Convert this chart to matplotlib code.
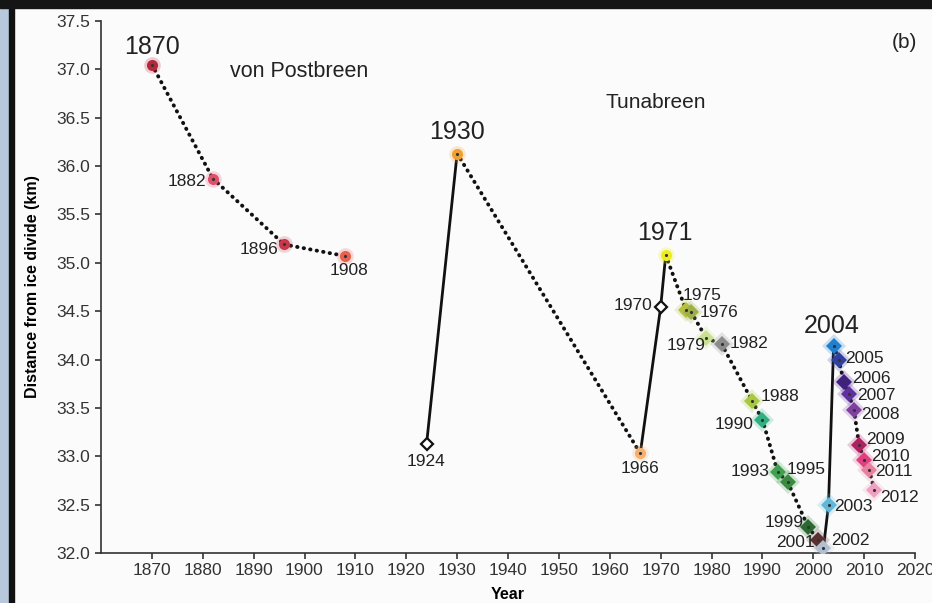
import matplotlib.pyplot as plt
from matplotlib.patches import Rectangle

plt.rcParams['font.family'] = ['Liberation Sans', 'DejaVu Sans']

# front positions, von Postbreen
vp_years = [1870, 1882, 1896, 1908]
vp_dist = [37.05, 35.87, 35.19, 35.07]
vp_colors = ['#b5283c', '#e0506a', '#c8384a', '#e8604f']

# front positions, Tunabreen
tb_years = [1924, 1930, 1966, 1970, 1971, 1975, 1976, 1979, 1982, 1988, 1990,
            1993, 1995, 1999, 2001, 2002, 2003, 2004, 2005, 2006, 2007, 2008,
            2009, 2010, 2011, 2012]
tb_dist = [33.13, 36.13, 33.03, 34.54, 35.08, 34.51, 34.49, 34.22, 34.16,
           33.57, 33.38, 32.84, 32.73, 32.27, 32.13, 32.05, 32.50, 34.14,
           34.00, 33.77, 33.64, 33.48, 33.12, 32.96, 32.86, 32.65]
tb_colors = ['none', '#f0a030', '#f5b070', 'none', '#ecec20', '#b8c040',
             '#a0b048', '#c8e090', '#8c8c8c', '#a8c840', '#30b080', '#40a050',
             '#3a8a40', '#2a6a30', '#5a3030', '#b0c0d0', '#60b8d8', '#2080d0',
             '#3040a0', '#402080', '#6030a0', '#8040a0', '#b02060', '#e04080',
             '#e880a0', '#f0a0c0']

surge_years = [1870, 1930, 1971, 2004]

# label offsets in pixels (dx, dy, ha)
label_pos = {
    1870: (0, 18, 'center'), 1882: (-7, -3, 'right'), 1896: (-6, -5, 'right'),
    1908: (4, -14, 'center'), 1924: (-1, -18, 'center'), 1930: (0, 22, 'center'),
    1966: (0, -15, 'center'), 1970: (-8, 2, 'right'), 1971: (-1, 22, 'center'),
    1975: (-3, 15, 'left'), 1976: (8, 0, 'left'), 1979: (-1, -7, 'right'),
    1982: (8, 1, 'left'), 1988: (8, 5, 'left'), 1990: (-9, -5, 'right'),
    1993: (-8, 0, 'right'), 1995: (-1, 13, 'left'), 1999: (-5, 4, 'right'),
    2001: (-4, -2, 'right'), 2002: (8, 8, 'left'), 2003: (6, -2, 'left'),
    2004: (-2, 20, 'center'), 2005: (6, 1, 'left'), 2006: (8, 3, 'left'),
    2007: (8, -1, 'left'), 2008: (7, -5, 'left'), 2009: (7, 5, 'left'),
    2010: (7, 4, 'left'), 2011: (6, -2, 'left'), 2012: (6, -7, 'left'),
}

fig = plt.figure(figsize=(9.32, 6.03), dpi=100)
fig.patch.set_facecolor('#fbfbfb')
ax = fig.add_axes([101 / 932, 50 / 603, 814 / 932, 532 / 603])
ax.set_facecolor('#fbfbfb')

# frame round the panel
fig.patches.append(Rectangle((0, 0), 9 / 932, 1, transform=fig.transFigure,
                             color='#b8c8dc', zorder=0))
fig.patches.append(Rectangle((9 / 932, 0), 5 / 932, 1, transform=fig.transFigure,
                             color='#111111', zorder=0))
fig.patches.append(Rectangle((0, 1 - 8 / 603), 1, 8 / 603, transform=fig.transFigure,
                             color='#151515', zorder=0))


def draw_series(years, dist, colors):
    # advances drawn solid, retreats dotted
    for i in range(len(years) - 1):
        if dist[i + 1] > dist[i]:
            ax.plot(years[i:i + 2], dist[i:i + 2], color='#111111', ls='-',
                    lw=2.0, zorder=2)
        else:
            ax.plot(years[i:i + 2], dist[i:i + 2], color='#111111',
                    ls=(0, (0.1, 1.6)), lw=2.8, dash_capstyle='round', zorder=2)
    for y, d, c in zip(years, dist, colors):
        if c == 'none':
            ax.plot(y, d, marker='D', ms=6, mfc='white', mec='#111111',
                    mew=1.6, zorder=4)
            continue
        mk = 'o' if y < 1975 else 'D'
        ax.plot(y, d, marker=mk, ms=12, color=c, alpha=0.22, mew=0, zorder=3)
        ax.plot(y, d, marker=mk, ms=8, color=c, mew=0, zorder=4)
        ax.plot(y, d, marker='.', ms=2.5, color='#333333', zorder=5)


def draw_labels(years, dist):
    for y, d in zip(years, dist):
        dx, dy, ha = label_pos[y]
        big = y in surge_years
        ax.annotate(str(y), (y, d), xytext=(dx * 0.72, dy * 0.72),
                    textcoords='offset points', ha=ha, va='center',
                    fontsize=18 if big else 12.5, color='#222222', zorder=6)


draw_series(vp_years, vp_dist, vp_colors)
draw_series(tb_years, tb_dist, tb_colors)
draw_labels(vp_years, vp_dist)
draw_labels(tb_years, tb_dist)

ax.text(1899, 36.98, 'von Postbreen', fontsize=15.5, color='#222222',
        ha='center', va='center')
ax.text(1969, 36.66, 'Tunabreen', fontsize=15, color='#222222',
        ha='center', va='center')
ax.text(2018, 37.28, '(b)', fontsize=15, color='#222222',
        ha='center', va='center')

ax.set_xlim(1860, 2020)
ax.set_ylim(32.0, 37.5)
ax.set_xticks(range(1870, 2021, 10))
ax.set_yticks([32.0 + 0.5 * k for k in range(12)])
ax.set_yticklabels([f'{32.0 + 0.5 * k:.1f}' for k in range(12)])
ax.tick_params(labelsize=12.5, colors='#333333', length=4, width=1.2)
for s in ['top', 'right']:
    ax.spines[s].set_visible(False)
for s in ['left', 'bottom']:
    ax.spines[s].set_color('#333333')
    ax.spines[s].set_linewidth(1.2)

ax.set_xlabel('Year', fontsize=11.5, fontweight='bold', labelpad=6)
ax.set_ylabel('Distance from ice divide (km)', fontsize=11.5,
              fontweight='bold', labelpad=12)

fig.savefig('out.png', dpi=100)
